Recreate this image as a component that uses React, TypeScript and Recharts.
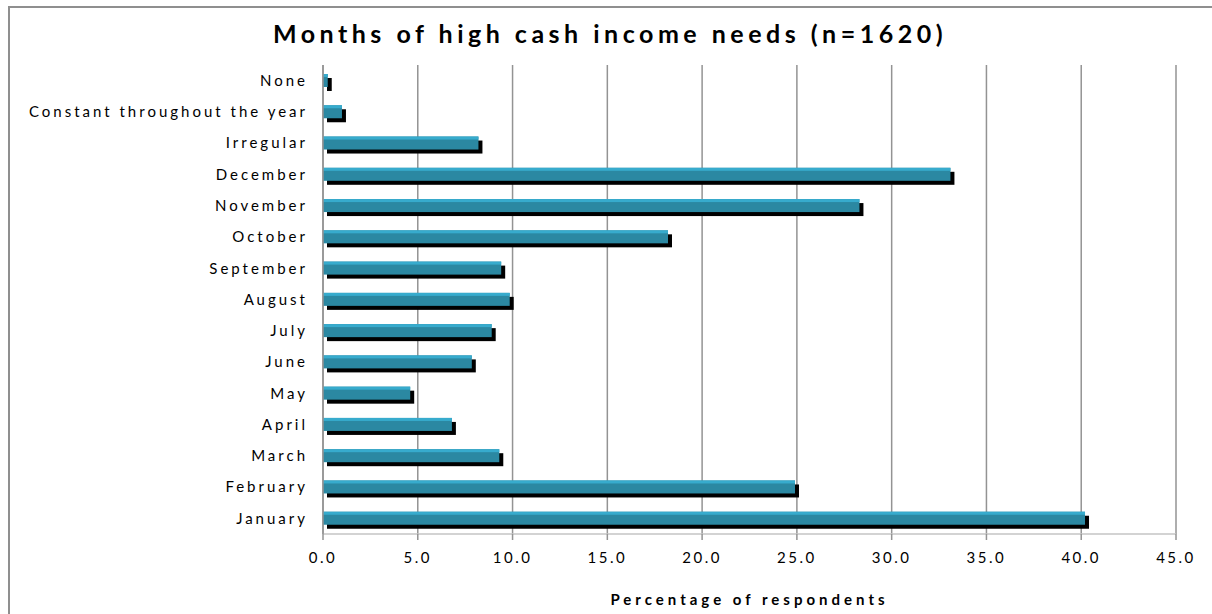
import { Bar, BarChart, CartesianGrid, Label, XAxis, YAxis } from 'recharts';

// categories top to bottom, as drawn on the chart
const categories = [
  'None',
  'Constant throughout the year',
  'Irregular',
  'December',
  'November',
  'October',
  'September',
  'August',
  'July',
  'June',
  'May',
  'April',
  'March',
  'February',
  'January',
];

// percentage of respondents (n=1620)
const percentages = [0.25, 1.0, 8.2, 33.1, 28.3, 18.2, 9.4, 9.85, 8.9, 7.85, 4.6, 6.8, 9.3, 24.9, 40.2];

const xTicks = [0, 5, 10, 15, 20, 25, 30, 35, 40, 45];

const FONT = 'Lato, "Open Sans", sans-serif';

// bar with a black drop shadow and a light top edge
function ShadowBar(props: any) {
  const { x, y, width, height } = props;
  if (width <= 0) return null;
  return (
    <g>
      <rect x={x + 4} y={y + 4} width={width} height={height} fill="#000" />
      <rect x={x} y={y} width={width} height={height} fill="#2B88A2" />
      <rect x={x} y={y} width={width} height={3} fill="#37ABCD" />
    </g>
  );
}

export default function App() {
  const rows = categories.map((label, i) => ({ label, value: percentages[i] }));

  return (
    <div
      style={{
        position: 'absolute',
        left: 0,
        top: 0,
        width: 1212,
        height: 614,
        overflow: 'hidden',
        background: '#fff',
        fontFamily: FONT,
      }}
    >
      <div
        style={{
          position: 'absolute',
          left: 8,
          top: 6,
          width: 1240,
          height: 640,
          border: '2px solid #8f8f8f',
        }}
      />
      <div
        style={{
          position: 'absolute',
          top: 17,
          left: 4,
          width: 1212,
          textAlign: 'center',
          fontSize: 25,
          lineHeight: '32px',
          fontWeight: 700,
          letterSpacing: 4.5,
          color: '#000',
        }}
      >
        Months of high cash income needs (n=1620)
      </div>
      <BarChart
        width={1212}
        height={614}
        layout="vertical"
        data={rows}
        margin={{ top: 65, right: 36, bottom: 0, left: 0 }}
        style={{ position: 'absolute', left: 0, top: 0 }}
      >
        <CartesianGrid horizontal={false} stroke="#939393" strokeWidth={1.5} />
        <XAxis
          type="number"
          domain={[0, 45]}
          ticks={xTicks}
          interval={0}
          tickFormatter={(v: number) => v.toFixed(1)}
          height={80}
          axisLine={{ stroke: '#c4c4c4', strokeWidth: 1.5 }}
          tickLine={{ stroke: '#939393', strokeWidth: 1.5 }}
          tickSize={6}
          tickMargin={12}
          tick={{ fill: '#000', fontSize: 15, letterSpacing: 2.5, fontFamily: FONT }}
        >
          <Label
            value="Percentage of respondents"
            position="insideBottom"
            offset={9}
            style={{ fill: '#000', fontSize: 15, fontWeight: 700, letterSpacing: 4, fontFamily: FONT }}
          />
        </XAxis>
        <YAxis
          type="category"
          dataKey="label"
          width={323}
          interval={0}
          axisLine={{ stroke: '#939393', strokeWidth: 1.5 }}
          tickLine={false}
          tickSize={0}
          tickMargin={15}
          tick={{ fill: '#000', fontSize: 15, letterSpacing: 3, fontFamily: FONT }}
        />
        <Bar dataKey="value" barSize={13} shape={ShadowBar} isAnimationActive={false} />
      </BarChart>
    </div>
  );
}
